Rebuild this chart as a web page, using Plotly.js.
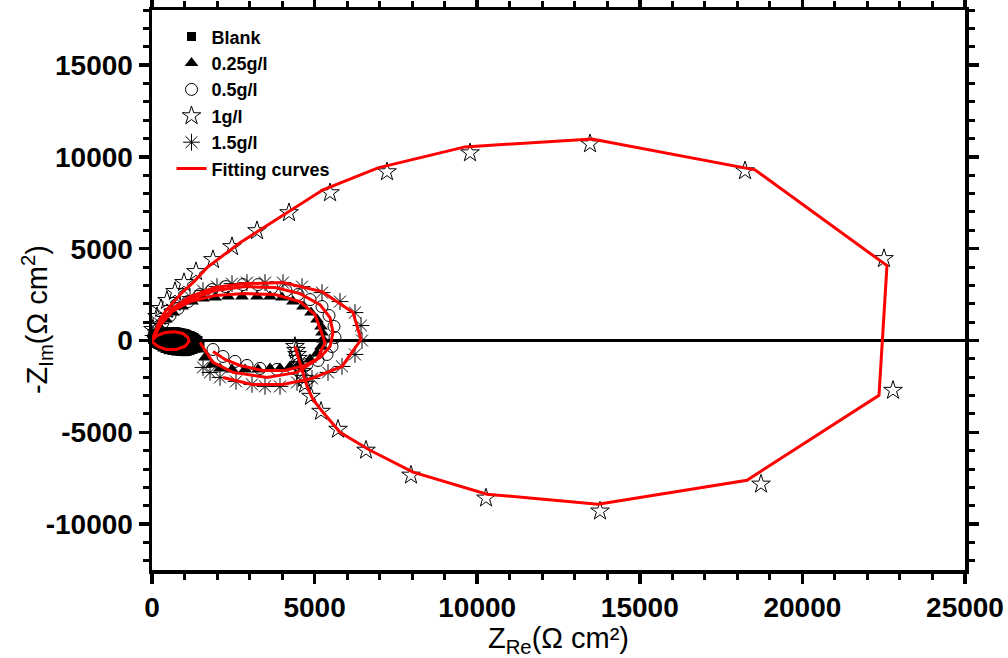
<!DOCTYPE html>
<html><head><meta charset="utf-8">
<script src="https://cdn.plot.ly/plotly-3.0.1.min.js"></script>
<style>html,body{margin:0;padding:0;background:#fff}</style>
</head><body>
<div id="chart" style="width:1008px;height:658px"></div>
<script>
// ---- data (Z_Re, -Z_Im in Ohm cm^2) ----
const blankX = [15,31,62,92,154,185,246,308,369,431,492,554,615,707,769,861,923,1015,1076,1169,1230,1292,1353,1415,1476,1446,1415,1353,1261,1169,1076,984,861,738,615,492,400,308,246,185,123,62,
  200,400,600,800,1000,1200,300,500,700,900,1100,300,500,700,900,1100];
const blankY = [60,163,220,272,330,380,410,435,460,489,489,489,489,489,470,435,410,380,330,272,220,163,80,0,-163,-250,-326,-420,-489,-550,-598,-610,-598,-580,-543,-500,-435,-360,-272,-220,-163,-80,
  0,0,0,0,0,0,250,280,280,260,200,-250,-330,-350,-330,-280];
const blankFitX = [0,154,400,707,953,1107,1138,1015,738,431,185,31,0];
const blankFitY = [0,272,435,470,380,163,-54,-326,-489,-489,-326,-109,0];

const g025X = [92,246,431,646,923,1230,1568,1937,2337,2768,3229,3629,3998,4336,4643,4889,5074,5197,5228,5258,5197,5074,4859,4551,4244,3936,3629,3260,2860,2460,2091,1845,1630,1415,1261];
const g025Y = [326,707,1141,1522,1848,2120,2283,2337,2391,2391,2391,2391,2337,2120,1848,1522,1141,761,435,54,-326,-707,-1033,-1250,-1413,-1522,-1522,-1576,-1576,-1576,-1522,-1304,-924,-489,-217];
const g025FitX = [0,246,615,1169,1937,2860,3782,4551,5012,5166,5320,5074,4459,3536,2491,1876,1476];
const g025FitY = [0,870,1576,2120,2446,2554,2500,2120,1413,598,-109,-1033,-1739,-2011,-1739,-1196,-109];

const g05X = [62,185,338,554,800,1107,1476,1845,2276,2798,3260,3690,4121,4490,4859,5228,5443,5597,5627,5535,5381,5105,4766,4336,3844,3321,2921,2552,2183,1876];
const g05Y = [272,598,978,1359,1739,2120,2500,2772,2935,3044,3044,2881,2718,2500,2228,1848,1359,761,163,-326,-761,-1087,-1304,-1522,-1576,-1522,-1359,-1141,-870,-489];
const g05FitX = [0,246,615,1169,1937,2860,3782,4551,5166,5474,5566,5474,5166,4705,4090,3383,2706,2245,1876];
const g05FitY = [0,815,1576,2228,2718,2935,2881,2554,1957,1250,435,-326,-924,-1359,-1630,-1630,-1359,-1033,-598];

const g1X = [31,154,277,461,707,984,1353,1876,2460,3229,4213,5474,7226,9779,13469,18235,22509,22786,18727,13776,10271,7964,6581,5720,5197,4889,4705,4674,4612,4551,4490,4459,4428,4397];
const g1Y = [598,1304,1739,2174,2663,3152,3750,4402,5109,5978,6957,8043,9185,10217,10707,9239,4457,-2717,-7826,-9293,-8587,-7337,-5978,-4837,-3859,-3043,-2391,-2065,-1685,-1304,-978,-761,-544,-326];
const g1FitX = [0,123,246,431,646,923,1292,1691,2706,3721,4551,5258,6950,9625,13530,18542,22601,22355,18296,13715,10301,8026,6704,5781,5258,4951,4766,4705,4397];
const g1FitY = [0,598,1141,1630,2065,2609,3207,3968,5326,6468,7392,8207,9403,10544,10979,9294,4076,-2989,-7609,-8913,-8370,-7174,-5979,-5000,-3913,-3207,-2500,-2120,-326];

const g15X = [31,123,246,400,615,861,1169,1568,1999,2460,2921,3475,4028,4613,5228,5781,6242,6427,6458,6242,5843,5412,4920,4459,3936,3475,3075,2583,2091,1784,1568];
const g15Y = [272,598,924,1304,1685,2065,2391,2718,2935,3098,3152,3152,3152,2935,2609,2120,1522,815,0,-761,-1413,-1739,-2065,-2283,-2500,-2500,-2391,-2228,-2011,-1739,-1467];
const g15FitX = [0,246,615,1169,1937,2860,4028,5228,6181,6427,5843,4920,4028,3075,2183];
const g15FitY = [0,924,1739,2391,2881,3098,3152,2663,1522,54,-1413,-2065,-2391,-2391,-2011];

const seriesNames = ['Blank','0.25g/l','0.5g/l','1g/l','1.5g/l'];
const fitName = 'Fitting curves';

const xTickVals = [0,5000,10000,15000,20000,25000];
const xTickText = ['0','5000','10000','15000','20000','25000'];
const yTickVals = [-10000,-5000,0,5000,10000,15000];
const yTickText = ['-10000','-5000','0','5000','10000','15000'];

const markerSpecs = [
  {symbol:'square', size:9, color:'#000', line:{width:0}},
  {symbol:'triangle-up', size:12, color:'#000', line:{width:0}},
  {symbol:'circle-open', size:12, color:'#000', line:{width:1}},
  {symbol:'star-open', size:14, color:'#000', line:{width:1}},
  {symbol:'asterisk-open', size:14, color:'#000', line:{width:1}}
];
const pts = [[blankX,blankY],[g025X,g025Y],[g05X,g05Y],[g1X,g1Y],[g15X,g15Y]];
const fits = [[blankFitX,blankFitY],[g025FitX,g025FitY],[g05FitX,g05FitY],[g1FitX,g1FitY],[g15FitX,g15FitY]];

const traces = [];
pts.forEach((p,i)=>{
  traces.push({x:p[0], y:p[1], type:'scatter', mode:'markers', name:seriesNames[i], marker:markerSpecs[i], cliponaxis:false});
});
fits.forEach((f,i)=>{
  traces.push({x:f[0], y:f[1], type:'scatter', mode:'lines', name:fitName, showlegend:i===0,
    line:{color:'#ff0000', width:3}});
});

const FAM = 'Liberation Sans, Arial, sans-serif';
const tickFont = {family:FAM, size:28, color:'#000', weight:'bold'};
const titleFont = {family:FAM, size:29, color:'#000'};
const axisCommon = {
  showline:true, linecolor:'#000', linewidth:3.5, mirror:'allticks',
  ticks:'outside', ticklen:10, tickwidth:3.5, tickcolor:'#000',
  showgrid:false, tickfont:tickFont, tickmode:'array',
  minor:{ticks:'outside', ticklen:6, tickwidth:3, tickcolor:'#000', dtick:1000, tick0:0, showgrid:false}
};
const layout = {
  width:1008, height:658,
  margin:{l:152, r:43, t:10, b:88},
  paper_bgcolor:'#fff', plot_bgcolor:'#fff',
  showlegend:true,
  legend:{x:0.024, y:0.985, xanchor:'left', yanchor:'top', bgcolor:'rgba(0,0,0,0)', itemsizing:'trace',
    font:{family:FAM, size:18, color:'#000', weight:'bold'}, tracegroupgap:0},
  xaxis: Object.assign({}, axisCommon, {range:[0,25000], tickvals:xTickVals, ticktext:xTickText, zeroline:false,
    title:{text:'Z<sub>Re</sub>(Ω cm²)', font:titleFont, standoff:0}}),
  yaxis: Object.assign({}, axisCommon, {range:[-12500,18000], tickvals:yTickVals, ticktext:yTickText,
    zeroline:true, zerolinecolor:'#000', zerolinewidth:3.5}),
  annotations:[{text:'-Z<sub>Im</sub>(Ω cm<sup>2</sup>)', textangle:-90, xref:'paper', yref:'paper',
    x:-0.1415, y:0.448, xanchor:'center', yanchor:'middle', showarrow:false, font:titleFont}]
};
Plotly.newPlot('chart', traces, layout, {displayModeBar:false, staticPlot:true});
</script>
</body></html>
